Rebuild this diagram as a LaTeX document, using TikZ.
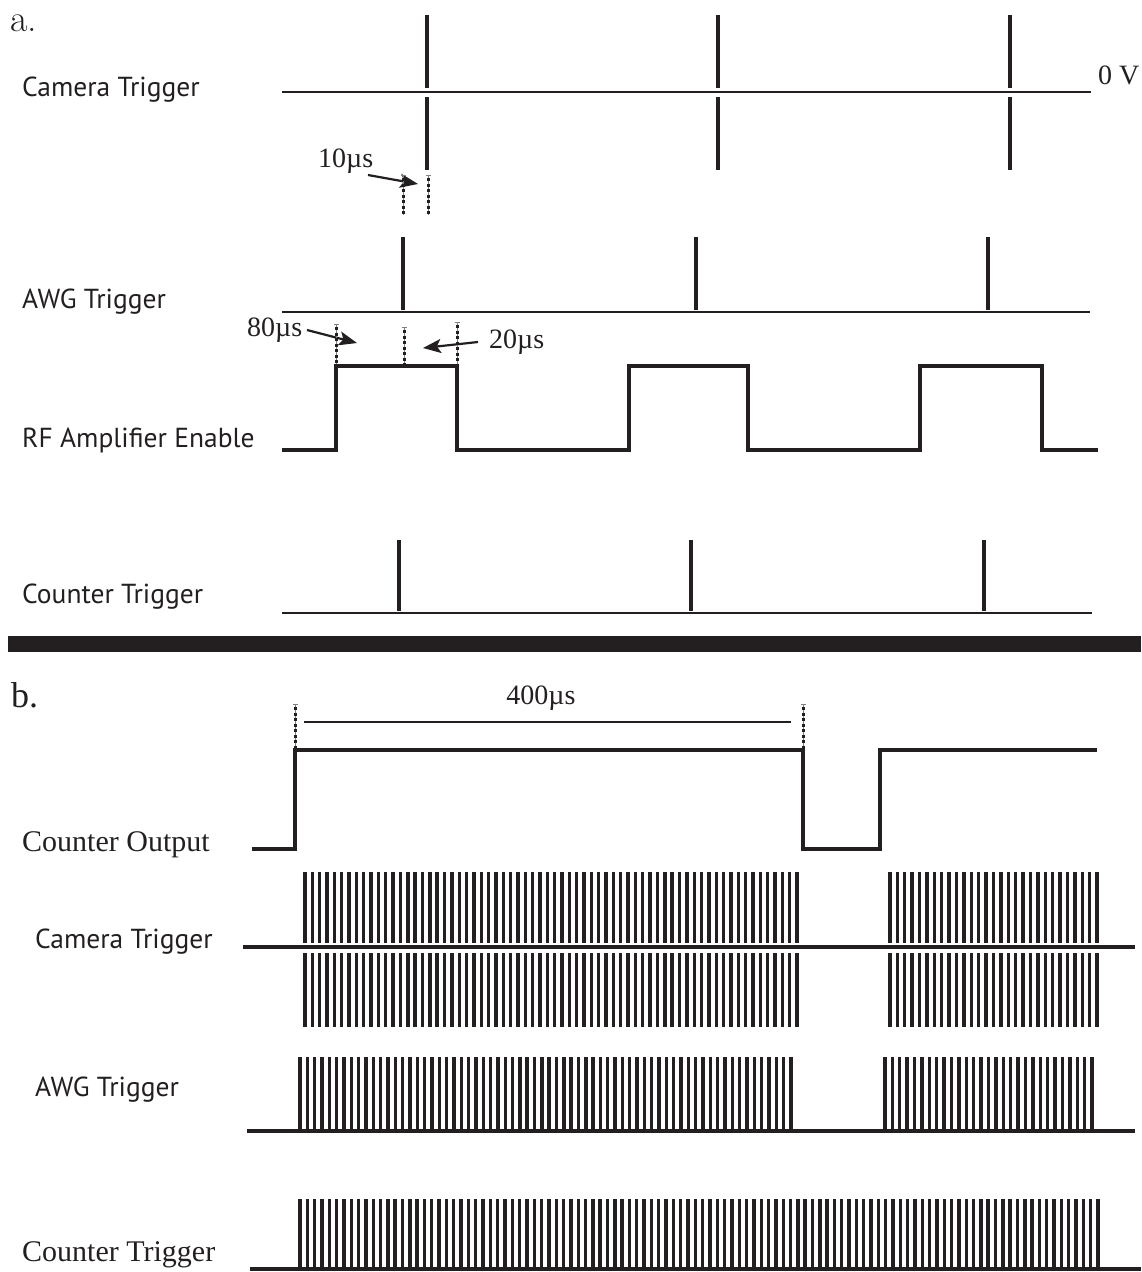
\documentclass[tikz,border=0pt]{standalone}
\usepackage{fontspec}
\setmainfont{Liberation Serif}
\newfontfamily\sansf{PT Sans}
\newfontfamily\lmserif{Latin Modern Roman}
\usetikzlibrary{arrows.meta}
\definecolor{ink}{HTML}{231F20}
\newcommand\dmark[3]{%
  \draw[dotguide] (#1-2.5,#2) -- (#1+2.5,#2) (#1,#2) -- (#1,#3);
  \draw[dots] (#1,#2+3) -- (#1,#3);}
\begin{document}
\begin{tikzpicture}[x=1pt,y=-1pt,
  sig/.style={ink, line width=2pt},
  pulse/.style={ink, line width=3.5pt},
  level/.style={ink, line width=4pt, line join=miter},
  bar/.style={ink, line width=3.4pt},
  dots/.style={ink, line width=3pt, dash pattern=on 3pt off 2.5pt},
  dotguide/.style={gray, line width=0.6pt},
  arr/.style={ink, line width=2.2pt, -{Stealth[length=18pt,width=14pt,inset=4pt]}},
  slabel/.style={anchor=west, inner sep=0pt, text=ink, font=\sansf\fontsize{27.5}{32}\selectfont},
  rlabel/.style={anchor=west, inner sep=0pt, text=ink, font=\fontsize{30}{34}\selectfont},
  vlabel/.style={inner sep=0pt, text=ink, font=\fontsize{28}{32}\selectfont},
]
\useasboundingbox (0,0) rectangle (1141,1272);

% ================= part a =================
\node[anchor=base west, inner sep=0pt, text=ink, font=\lmserif\fontsize{38}{40}\selectfont] (pa) at (10,31) {a.};

% Camera trigger
\node[slabel] (lcam) at (22,90) {Camera Trigger};
\draw[sig] (282,92) -- (1091,92);
\foreach \x in {427,718,1010} {
  \draw[pulse] (\x,15) -- (\x,88);
  \draw[pulse] (\x,97) -- (\x,170);
}
\node[vlabel, anchor=base west] (zv) at (1098,84) {0 V};

% 10 us marker
\node[vlabel, anchor=west] (t10) at (318,161) {10µs};
\coordinate (t10s) at (368,175);
\coordinate (t10e) at (418,184);
\draw[arr] (t10s) -- (t10e);
\dmark{403}{175}{215}
\dmark{428}{175}{215}

% AWG trigger
\node[slabel] (lawg) at (22,302) {AWG Trigger};
\draw[sig] (282,312) -- (1090,312);
\foreach \x in {403,696,988} \draw[pulse] (\x,237) -- (\x,310);

% 80 us / 20 us markers
\node[vlabel, anchor=west] (t80) at (247,330) {80µs};
\coordinate (t80s) at (307,330);
\coordinate (t80e) at (357,343);
\draw[arr] (t80s) -- (t80e);
\node[vlabel, anchor=west] (t20) at (489,342) {20µs};
\coordinate (t20s) at (478,342);
\coordinate (t20e) at (423,348);
\draw[arr] (t20s) -- (t20e);
\dmark{336}{324}{364}
\dmark{404}{327}{364}
\dmark{457}{322}{364}

% RF amplifier enable
\node[slabel] (lrf) at (22,440) {RF Amplifier Enable};
\draw[level] (282,450) -- (336,450) -- (336,366) -- (457,366) -- (457,450)
  -- (629,450) -- (629,366) -- (748,366) -- (748,450)
  -- (920,450) -- (920,366) -- (1042,366) -- (1042,450) -- (1098,450);

% Counter trigger
\node[slabel] (lct) at (22,597) {Counter Trigger};
\draw[sig] (282,613) -- (1092,613);
\foreach \x in {399,691,984} \draw[pulse] (\x,540) -- (\x,611);

% separator
\fill[ink] (8,636) rectangle (1141,652);

% ================= part b =================
\node[anchor=base west, inner sep=0pt, text=ink, font=\fontsize{36}{40}\selectfont] (pb) at (11,707) {b.};

% Counter output
\node[rlabel] (lco) at (22,845) {Counter Output};
\draw[level] (252,849) -- (295,849) -- (295,750) -- (803,750) -- (803,849)
  -- (880,849) -- (880,750) -- (1097,750);
\dmark{295}{704}{748}
\dmark{803}{704}{748}
\coordinate (d1) at (304,722);
\coordinate (d2) at (791,722);
\draw[sig] (d1) -- (d2);
\node[vlabel] (t400) at (541,698) {400µs};

% Camera trigger (b)
\node[slabel] (lcam2) at (35,942) {Camera Trigger};
\draw[level] (243,947) -- (1135,947);
\foreach \i in {0,...,67} {
  \draw[bar] ({305+\i*7.3433},872) -- ({305+\i*7.3433},943);
  \draw[bar] ({305+\i*7.3433},953) -- ({305+\i*7.3433},1027);
}
\foreach \i in {0,...,28} {
  \draw[bar] ({890+\i*7.3929},872) -- ({890+\i*7.3929},943);
  \draw[bar] ({890+\i*7.3929},953) -- ({890+\i*7.3929},1027);
}

% AWG trigger (b)
\node[slabel] (lawg2) at (35,1090) {AWG Trigger};
\draw[level] (247,1131) -- (1135,1131);
\foreach \i in {0,...,67} \draw[bar] ({300+\i*7.3284},1057) -- ({300+\i*7.3284},1131);
\foreach \i in {0,...,28} \draw[bar] ({885+\i*7.3929},1057) -- ({885+\i*7.3929},1131);

% Counter trigger (b)
\node[rlabel] (lct2) at (22,1255) {Counter Trigger};
\draw[level] (250,1269) -- (1141,1269);
\foreach \i in {0,...,109} \draw[bar] ({300+\i*7.3211},1199) -- ({300+\i*7.3211},1269);

\end{tikzpicture}
\end{document}
